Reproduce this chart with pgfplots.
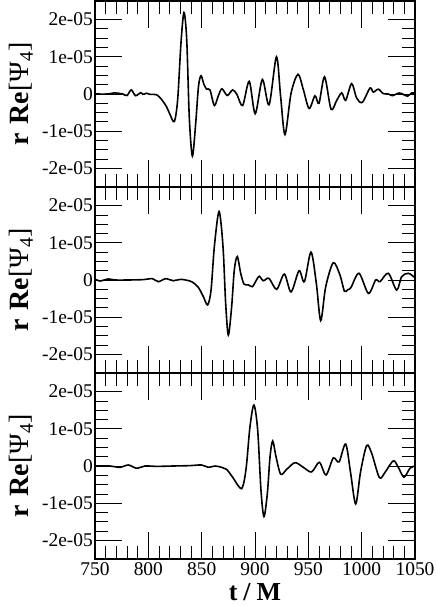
\documentclass[border=0pt]{standalone}
\usepackage{fontspec}
\setmainfont{Liberation Serif}
\usepackage{pgfplots}
\pgfplotsset{compat=1.18}

\pgfplotsset{
  curve/.style={black, line width=1.6bp, smooth, mark=none},
  panel/.style={
    width=320bp, height=186bp, scale only axis,
    xmin=750, xmax=1050, ymin=-25, ymax=25,
    xtick={750,800,...,1050}, minor x tick num=4,
    ytick={-20,-10,0,10,20},
    yticklabels={-2e-05,-1e-05,0,1e-05,2e-05},
    minor y tick num=3,
    tick align=inside, tick pos=both,
    major tick length=27bp, minor tick length=13bp,
    every tick/.style={black, line width=0.8bp},
    axis line style={line width=1.4bp},
    tick label style={font=\fontsize{19.5}{21}\selectfont},
    yticklabel style={inner sep=2bp},
    xticklabel style={inner sep=3bp},
    every axis y label/.style={at={(axis description cs:-0.231,0.5)},
      rotate=90, anchor=center},
    ylabel={\fontsize{28}{30}\selectfont{\bfseries r\hspace{2bp} Re}[Ψ\textsubscript{4}]},
  }
}

\begin{document}
\begin{tikzpicture}
\useasboundingbox (0,0) rectangle (436bp,606bp);

% top panel
\begin{axis}[panel, at={(95bp,419bp)}, anchor=south west, xticklabels={}]
\addplot[curve] coordinates {
(750,0) (762,0) (768,0.3) (772,0.2) (776,0) (780,-0.4) (784,1.1) (788,-0.45)
(792.8,0.35) (795,-0.1) (798.4,0.2) (801.6,-0.1) (807.8,-0.2) (812.5,-1.5)
(817.2,-3.5) (820.3,-5.5) (824.4,-7.4) (827.5,-1.5) (830.6,13.7) (833.4,21.9)
(836,14.6) (838.4,-6.3) (841.3,-16.7) (844.4,-7.9) (847,2.0) (849.4,4.9)
(852.2,2.5) (854.7,1.3) (857.8,1.1) (861.9,-3.1) (865.6,-0.5) (869,1.4)
(874,-0.4) (879,1.1) (883,-0.1) (888.4,-3.1) (894.6,3.4) (900.2,-5.3)
(906.9,3.9) (913.2,-2.9) (920.1,10.0) (924,-0.6) (928.1,-10.9) (933.8,0.2)
(940.3,5.3) (945.3,1.2) (950.7,-3.9) (956.2,-0.5) (960,-2.5) (965.2,4.6)
(971.3,-4.1) (976.6,-1.7) (981.3,0.3) (985,-1.7) (990.6,2.8) (995.3,-1.1)
(1000.6,-2.25) (1007.8,1.6) (1010.9,0.5) (1015.6,1.3) (1020.3,0.1) (1025,0)
(1028.8,-0.45) (1035,0.27) (1039,-0.1) (1043,-0.6) (1046.9,0.27) (1050,0.2)
};
\end{axis}

% middle panel
\begin{axis}[panel, at={(95bp,233bp)}, anchor=south west, xticklabels={}]
\addplot[curve] coordinates {
(750,0.27) (754.7,-0.27) (762.5,0.27) (768.8,0) (781,0) (795.3,0.1)
(803.8,0.36) (809.4,-0.45) (816.3,0.36) (823.4,-0.2) (830.6,0.18)
(840.6,-0.45) (846.9,-2.0) (851.6,-4.5) (855.6,-6.7) (858.8,-2.7)
(861.9,9.0) (866.3,18.4) (870,9.0) (872.5,-6.3) (875,-14.8) (878.1,-7.2)
(880.6,2.7) (883.4,6.3) (886.6,1.8) (889.7,-1.1) (893.8,-1.3) (897.5,-1.8)
(901,-0.2) (904,1.0) (907.8,-0.2) (913.1,0.45) (920.3,-2.5) (927.5,1.6)
(933.8,-3.2) (941.3,2.5) (946.3,-0.45) (952.5,7.5) (957.5,-0.9)
(961.6,-10.9) (966.3,-1.8) (973.4,4.65) (979.7,1.3) (983.8,-3.0)
(987,-2.6) (990,-2.0) (997.5,1.8) (1006.3,-3.6) (1013.1,0) (1017.2,-0.45)
(1025,1.8) (1032.8,-2.7) (1037.5,0.9) (1043.8,1.8) (1050,0.6)
};
\end{axis}

% bottom panel
\begin{axis}[panel, at={(95bp,47bp)}, anchor=south west,
  xticklabels={750,800,850,900,950,1000,1050},
  every axis x label/.style={at={(axis description cs:0.5,-0.222)}, anchor=base},
  xlabel={\fontsize{26}{28}\selectfont\bfseries t\hspace{6bp}/\hspace{6bp}M}]
\addplot[curve] coordinates {
(750,0) (764,0) (773.4,-0.36) (781.3,0.27) (789,-0.6) (796.9,0)
(807.8,-0.1) (823.4,0) (839,0.1) (850,0.27) (856.3,-0.36) (862.5,0)
(868.8,-0.36) (873.4,-0.9) (879.7,-3.3) (884,-5.2) (887.5,-6.1) (890,-3.8)
(892.2,0.7) (895.3,10.6) (899,16.4) (902.5,9.7) (905.6,-6.5) (908.4,-13.6)
(911.6,-7.3) (914.1,2.5) (916.6,6.7) (919.7,2.5) (924.1,-2.2) (929.7,-0.9)
(937.5,0.9) (945.3,-0.36) (953.1,-1.6) (960.3,1.0) (966.6,-2.4)
(973.4,2.15) (978.8,1.1) (985,5.9) (989.7,-2.0) (994.4,-10.2) (999,-1.5)
(1004.7,5.5) (1009.4,3.4) (1016.6,-3.1) (1021.9,-1.7) (1029.7,1.4)
(1034.4,-0.4) (1039.7,-3.0) (1045.3,-0.6) (1050,0)
};
\end{axis}
\end{tikzpicture}
\end{document}
